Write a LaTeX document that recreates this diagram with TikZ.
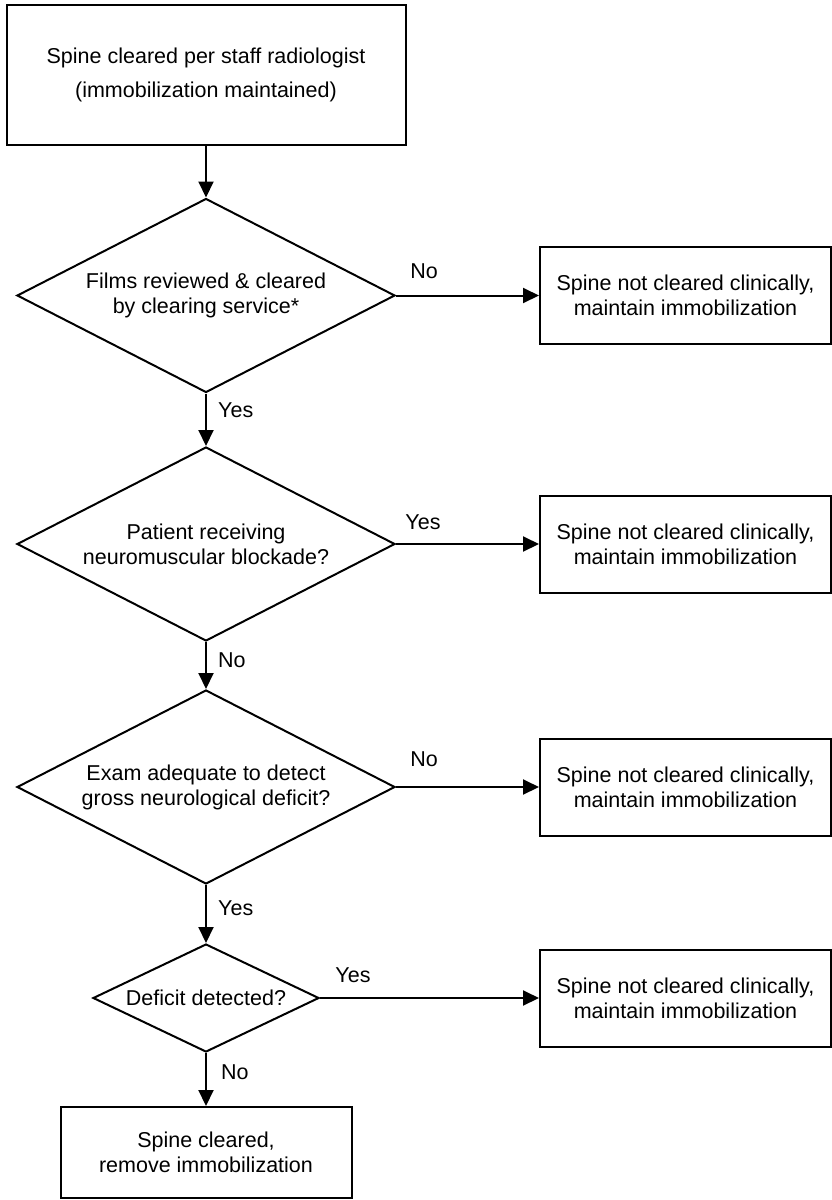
\documentclass[tikz,border=0pt]{standalone}
\usepackage{fontspec}
\setmainfont{Liberation Sans}
\usetikzlibrary{shapes.geometric,arrows.meta}

\begin{document}
\begin{tikzpicture}[x=1pt,y=-1pt,
  every node/.style={font=\fontsize{21.5}{25}\selectfont},
  flowbox/.style={draw,line width=2pt,rectangle,align=center,inner sep=0pt},
  sidebox/.style={flowbox,minimum width=291pt,minimum height=97pt},
  decision/.style={draw,line width=2pt,diamond,align=center,inner sep=0pt,shape aspect=2},
  bigdecision/.style={decision,minimum width=378pt,minimum height=194pt},
  arr/.style={line width=2pt,-{Triangle[length=16pt,width=15pt]}},
  lbl/.style={inner sep=0pt}
]
\useasboundingbox[fill=white] (0,0) rectangle (832,1200);

% main column
\node[flowbox,minimum width=399pt,minimum height=140pt,
      font=\fontsize{21.5}{34}\selectfont] (start) at (206,75)
  {Spine cleared per staff radiologist\\(immobilization maintained)};
\node[bigdecision] (films) at (206,295.5)
  {Films reviewed \& cleared\\by clearing service*};
\node[bigdecision] (nmb) at (206,544)
  {Patient receiving\\neuromuscular blockade?};
\node[bigdecision] (exam) at (206,787)
  {Exam adequate to detect\\gross neurological deficit?};
\node[decision,minimum width=226pt,minimum height=108pt] (deficit) at (206,998)
  {Deficit detected?};
\node[flowbox,minimum width=291pt,minimum height=91pt] (cleared) at (206,1152.5)
  {Spine cleared,\\remove immobilization};

% side outcomes
\node[sidebox] (nc1) at (685.5,295.5) {Spine not cleared clinically,\\maintain immobilization};
\node[sidebox] (nc2) at (685.5,544) {Spine not cleared clinically,\\maintain immobilization};
\node[sidebox] (nc3) at (685.5,787) {Spine not cleared clinically,\\maintain immobilization};
\node[sidebox] (nc4) at (685.5,998) {Spine not cleared clinically,\\maintain immobilization};

% connectors
\draw[arr] (start.south) -- (films.north);
\draw[arr] (films.south) -- (nmb.north);
\draw[arr] (nmb.south) -- (exam.north);
\draw[arr] (exam.south) -- (deficit.north);
\draw[arr] (deficit.south) -- (cleared.north);
\draw[arr] (films.east) -- (nc1.west);
\draw[arr] (nmb.east) -- (nc2.west);
\draw[arr] (exam.east) -- (nc3.west);
\draw[arr] (deficit.east) -- (nc4.west);

% branch labels
\node[lbl] (l1) at (424,271) {No};
\node[lbl,anchor=west] (l2) at (218,410) {Yes};
\node[lbl] (l3) at (423,522) {Yes};
\node[lbl,anchor=west] (l4) at (218,660) {No};
\node[lbl] (l5) at (424,759) {No};
\node[lbl,anchor=west] (l6) at (218,908) {Yes};
\node[lbl] (l7) at (353,975) {Yes};
\node[lbl,anchor=west] (l8) at (221,1072) {No};
\end{tikzpicture}
\end{document}
